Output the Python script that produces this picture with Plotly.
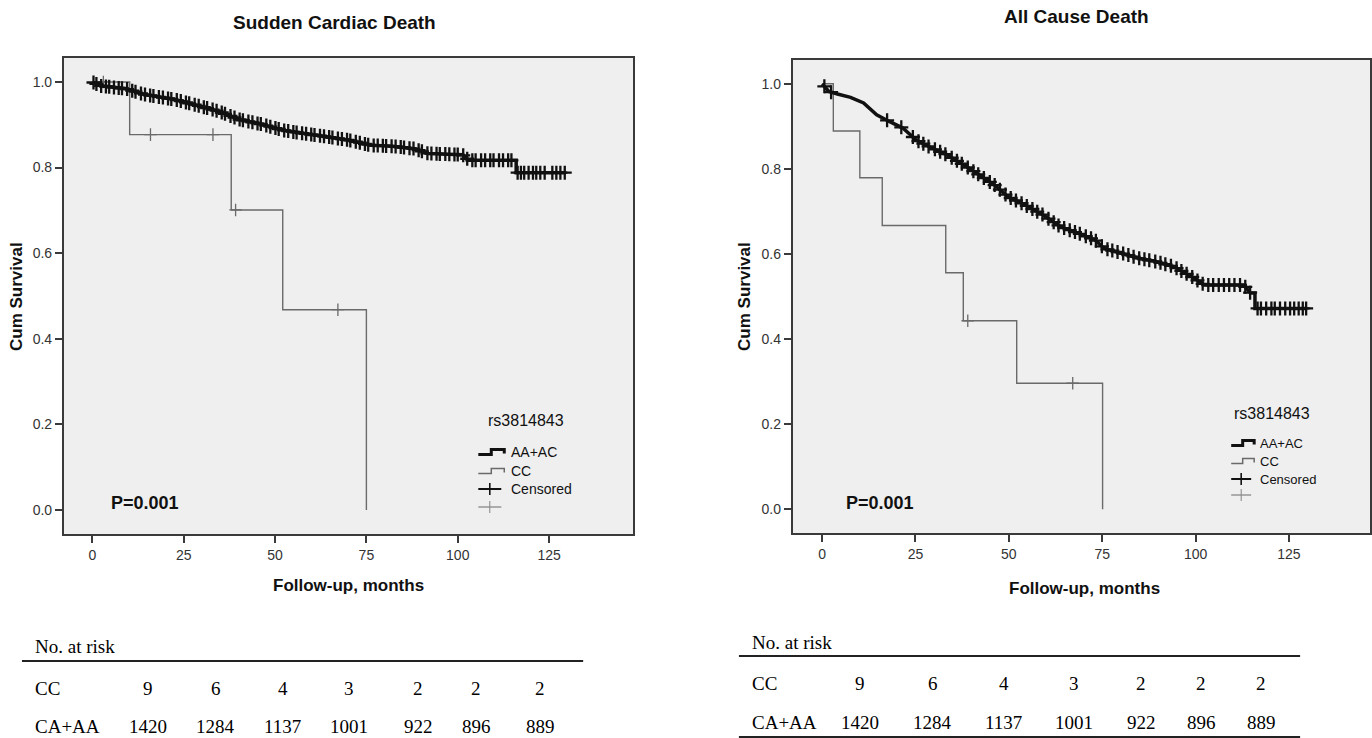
import numpy as np
import plotly.graph_objects as go

W, H = 1372, 738

# ---------------- data ----------------
x_ticks = [0, 25, 50, 75, 100, 125]
y_ticks = [0.0, 0.2, 0.4, 0.6, 0.8, 1.0]

# Sudden Cardiac Death
scd_aa_t = [0, 2.2, 9.3, 14.1, 22.5, 28.4, 34.4, 40.4, 46.4, 52.3, 58.3, 64.3, 70.3, 76.2,
            82.2, 88.2, 91.8, 101.3, 103.1, 116.0, 116.0, 129.6]
scd_aa_s = [1.0, 0.991, 0.984, 0.971, 0.959, 0.946, 0.932, 0.912, 0.901, 0.887, 0.879, 0.872,
            0.864, 0.852, 0.850, 0.844, 0.833, 0.830, 0.817, 0.817, 0.788, 0.788]
scd_aa_cens = [0.3, 1.1, 2.4, 3.7, 4.6, 5.9, 7.2, 8.1, 9.5, 10.9, 11.8, 13.3, 14.4, 15.8, 16.7,
               18.2, 19.3, 20.7, 21.6, 23.1, 24.2, 25.6, 26.5, 28.0, 29.1, 30.5, 31.4, 32.9,
               34.0, 35.4, 36.3, 37.8, 38.9, 40.3, 41.2, 42.7, 43.8, 45.2, 46.1, 47.6, 48.7,
               50.1, 51.0, 52.5, 53.6, 55.0, 55.9, 57.4, 58.5, 59.9, 60.8, 62.3, 63.4, 64.8,
               65.7, 67.2, 68.3, 69.7, 70.6, 72.1, 73.2, 74.6, 75.5, 77.0, 78.1, 79.5, 80.4,
               81.9, 83.0, 84.4, 85.3, 86.8, 87.9, 89.3, 90.2, 91.7, 92.8, 94.2, 95.1, 96.6,
               97.7, 99.1, 100.0, 101.5, 102.6, 104.0, 104.9, 106.4, 107.5, 108.9, 109.8,
               111.3, 112.4, 113.8, 114.7, 116.4, 117.3, 118.2, 119.4, 120.6, 121.5, 122.6,
               123.8, 125.9, 127.0, 128.1, 129.3]
scd_cc_t = [0, 10.2, 38.0, 52.1, 75.0]
scd_cc_s = [1.0, 0.877, 0.701, 0.468, 0.0]
scd_cc_cens = [3.0, 15.9, 33.0, 39.2, 67.2]

# All Cause Death
acd_aa_t = [0, 1.8, 4.1, 7.6, 11.1, 14.6, 18.1, 21.6, 25.2, 28.7, 33.4, 38.0, 42.7, 46.2, 49.7,
            54.4, 59.1, 63.8, 68.5, 73.1, 75.5, 80.2, 84.8, 89.5, 94.2, 98.9, 102.4, 112.9,
            114.7, 115.9, 115.9, 129.9]
acd_aa_s = [1.0, 0.982, 0.976, 0.968, 0.955, 0.927, 0.911, 0.896, 0.868, 0.852, 0.833, 0.809,
            0.782, 0.762, 0.735, 0.715, 0.692, 0.664, 0.649, 0.633, 0.613, 0.602, 0.590, 0.582,
            0.570, 0.547, 0.527, 0.527, 0.508, 0.508, 0.472, 0.472]
acd_aa_cens = [0.6, 2.4, 17.4, 21.2, 24.3, 25.8, 27.1, 28.5, 30.2, 31.6, 33.0, 34.7, 36.1, 37.4,
               39.0, 40.5, 41.8, 43.3, 44.9, 46.2, 47.6, 49.1, 50.5, 51.9, 53.4, 54.8, 56.3,
               57.6, 59.0, 60.6, 62.0, 63.3, 64.8, 66.3, 67.7, 69.0, 70.6, 72.0, 73.3, 74.9,
               76.4, 77.7, 79.1, 80.6, 82.0, 83.4, 84.9, 86.3, 87.6, 89.2, 90.6, 91.9, 93.4,
               94.9, 96.2, 97.6, 99.1, 100.5, 101.9, 103.4, 104.7, 106.2, 107.6, 109.0, 110.4,
               111.9, 113.3, 114.6, 116.6, 117.5, 118.9, 120.3, 121.2, 122.6, 124.0, 125.3,
               126.4, 127.6, 128.7, 129.6]
acd_cc_t = [0, 3.0, 10.1, 16.1, 33.1, 37.8, 52.1, 75.1]
acd_cc_s = [1.0, 0.889, 0.779, 0.667, 0.556, 0.443, 0.296, 0.0]
acd_cc_cens = [39.0, 67.1]

# Number-at-risk table
risk_groups = ["CC", "CA+AA"]
risk_cc = [9, 6, 4, 3, 2, 2, 2]
risk_aa = [1420, 1284, 1137, 1001, 922, 896, 889]

titles = ["Sudden Cardiac Death", "All Cause Death"]
p_text = "P=0.001"
legend_title = "rs3814843"
legend_items = ["AA+AC", "CC", "Censored"]

# ---------------- helpers ----------------
def px(x):
    return x / W

def py(y):
    return 1 - y / H

def curve_value(ts, ss, t):
    """Survival read on the drawn AA+AC curve at time t."""
    return float(np.interp(t, ts, ss))

def step_value(ts, ss, t):
    """Kaplan-Meier step value at time t."""
    idx = max(i for i, tt in enumerate(ts) if tt <= t)
    return ss[idx]

SANS = "Liberation Sans, Arial, sans-serif"
SERIF = "Liberation Serif, Times New Roman, serif"
FRAME = "#3a3a3a"
GRAY = "#6a6a6a"
BLACK = "#111111"

fig = go.Figure()

panels = [
    dict(xa="x", ya="y", aa_t=scd_aa_t, aa_s=scd_aa_s, aa_c=scd_aa_cens,
         cc_t=scd_cc_t, cc_s=scd_cc_s, cc_c=scd_cc_cens),
    dict(xa="x2", ya="y2", aa_t=acd_aa_t, aa_s=acd_aa_s, aa_c=acd_aa_cens,
         cc_t=acd_cc_t, cc_s=acd_cc_s, cc_c=acd_cc_cens),
]

for p in panels:
    # CC curve (gray, thin step)
    fig.add_trace(go.Scatter(x=p["cc_t"], y=p["cc_s"], mode="lines", line_shape="hv",
                             line=dict(color=GRAY, width=1.4), xaxis=p["xa"], yaxis=p["ya"],
                             showlegend=False, hoverinfo="skip"))
    fig.add_trace(go.Scatter(x=p["cc_c"], y=[step_value(p["cc_t"], p["cc_s"], t) for t in p["cc_c"]],
                             mode="markers",
                             marker=dict(symbol="cross-thin", size=9,
                                         line=dict(color=GRAY, width=1.3)),
                             xaxis=p["xa"], yaxis=p["ya"], showlegend=False, hoverinfo="skip"))
    # AA+AC curve (black, thick)
    fig.add_trace(go.Scatter(x=p["aa_t"], y=p["aa_s"], mode="lines",
                             line=dict(color=BLACK, width=3.5),
                             xaxis=p["xa"], yaxis=p["ya"], showlegend=False, hoverinfo="skip"))
    fig.add_trace(go.Scatter(x=p["aa_c"], y=[curve_value(p["aa_t"], p["aa_s"], t) for t in p["aa_c"]],
                             mode="markers",
                             marker=dict(symbol="cross-thin", size=10,
                                         line=dict(color=BLACK, width=2.3)),
                             xaxis=p["xa"], yaxis=p["ya"], showlegend=False, hoverinfo="skip"))

axis_common = dict(showline=True, mirror=True, linecolor=FRAME, linewidth=2,
                   ticks="outside", ticklen=7, tickcolor=FRAME, tickwidth=1.5,
                   showgrid=False, zeroline=False,
                   tickfont=dict(family=SANS, size=14, color="#333333"))

fig.update_layout(
    width=W, height=H, margin=dict(l=0, r=0, t=0, b=0),
    paper_bgcolor="white", plot_bgcolor="#efefef",
    showlegend=False,
    xaxis=dict(domain=[px(64), px(634)], range=[-7.8, 148], tickvals=x_ticks,
               anchor="y", **axis_common),
    yaxis=dict(domain=[py(534), py(58)], range=[-0.056, 1.056], tickvals=y_ticks,
               tickformat=".1f", anchor="x", **axis_common),
    xaxis2=dict(domain=[px(794), 1.0], range=[-7.84, 146.7], tickvals=x_ticks,
                anchor="y2", **axis_common),
    yaxis2=dict(domain=[py(533), py(60)], range=[-0.056, 1.056], tickvals=y_ticks,
                tickformat=".1f", anchor="x2", **axis_common),
)

ann = []
shapes = []

def text(x, y, s, size, bold=False, family=SANS, color="#111111", xanchor="center", angle=0):
    ann.append(dict(x=px(x), y=py(y), xref="paper", yref="paper", showarrow=False,
                    text=("<b>%s</b>" % s) if bold else s, textangle=angle,
                    font=dict(family=family, size=size, color=color),
                    xanchor=xanchor, yanchor="middle"))

def line(x0, y0, x1, y1, color, width):
    shapes.append(dict(type="line", xref="paper", yref="paper",
                       x0=px(x0), y0=py(y0), x1=px(x1), y1=py(y1),
                       line=dict(color=color, width=width)))

def glyph(x0, x1, y, color, width):
    xm = (x0 + x1) / 2
    path = "M %f,%f L %f,%f L %f,%f L %f,%f L %f,%f" % (
        px(x0), py(y + 2.5), px(xm), py(y + 2.5), px(xm), py(y - 2.5),
        px(x1), py(y - 2.5), px(x1), py(y + 1.5))
    shapes.append(dict(type="path", xref="paper", yref="paper", path=path,
                       line=dict(color=color, width=width)))

def cross(x0, x1, y, color, width):
    line(x0, y, x1, y, color, width)
    xm = (x0 + x1) / 2
    line(xm, y - 6, xm, y + 6, color, width * 0.8)

# titles
text(335, 22, titles[0], 19, bold=True)
text(1078, 17, titles[1], 19, bold=True)
# axis titles
text(349, 585, "Follow-up, months", 17, bold=True)
text(1086, 588, "Follow-up, months", 17, bold=True)
text(16, 296, "Cum Survival", 17, bold=True, angle=-90)
text(745, 296, "Cum Survival", 17, bold=True, angle=-90)
# p values
text(145, 503, p_text, 18, bold=True)
text(881, 503, p_text, 18, bold=True)

# legends
leg = [
    dict(tx=527, ty=420, gx0=479, gx1=505, tx0=510, ys=[452, 471, 489, 507], size=14, tsize=16),
    dict(tx=1274, ty=413, gx0=1233, gx1=1256, tx0=1260, ys=[443, 461, 479, 495], size=13, tsize=16),
]
for L in leg:
    text(L["tx"], L["ty"], legend_title, L["tsize"])
    glyph(L["gx0"], L["gx1"], L["ys"][0], BLACK, 3)
    glyph(L["gx0"], L["gx1"], L["ys"][1], GRAY, 1.5)
    cross(L["gx0"], L["gx1"] - 3, L["ys"][2], BLACK, 2)
    cross(L["gx0"], L["gx1"] - 3, L["ys"][3], "#888888", 1.3)
    for name, yy in zip(legend_items, L["ys"][:3]):
        text(L["tx0"], yy, name, L["size"], xanchor="left")

# number-at-risk tables
tables = [
    dict(x0=22, x1=584, lx=33, hy=646, ly=661, ry=[688, 726], by=None,
         cols=[148, 216, 283, 350, 419, 477, 541]),
    dict(x0=740, x1=1302, lx=751, hy=642, ly=656, ry=[683, 722], by=737,
         cols=[861, 934, 1005, 1076, 1143, 1203, 1263]),
]
for T in tables:
    text(T["lx"], T["hy"], "No. at risk", 19, family=SERIF, color="#000000", xanchor="left")
    line(T["x0"], T["ly"], T["x1"], T["ly"], "#222222", 2.2)
    if T["by"] is not None:
        line(T["x0"], T["by"], T["x1"], T["by"], "#222222", 2.2)
    for g, vals, yy in zip(risk_groups, [risk_cc, risk_aa], T["ry"]):
        text(T["lx"], yy, g, 19, family=SERIF, color="#000000", xanchor="left")
        for v, cx in zip(vals, T["cols"]):
            text(cx, yy, str(v), 19, family=SERIF, color="#000000")

fig.update_layout(annotations=ann, shapes=shapes)

fig.write_html("out.html", config={"displayModeBar": False},
               post_script="document.body.style.margin='0';document.body.style.overflow='hidden';")
